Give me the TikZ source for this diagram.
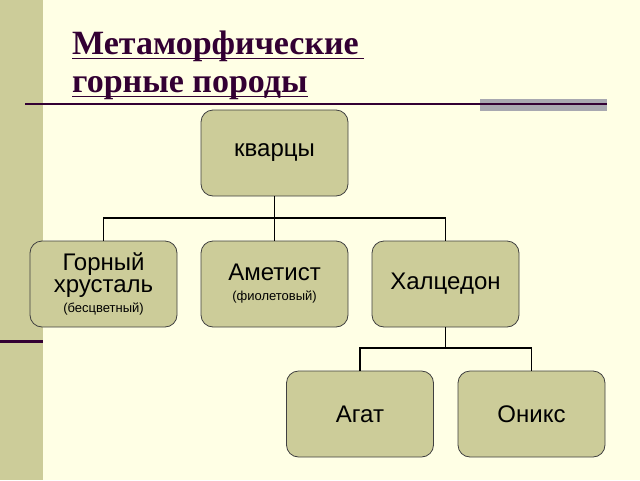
\documentclass[tikz,border=0pt]{standalone}
\usepackage{fontspec}
\setmainfont{Liberation Sans}
\newfontfamily\titlefont{Liberation Serif}
\definecolor{bg}{HTML}{FFFFE5}
\definecolor{olive}{HTML}{CCCC99}
\definecolor{dpurple}{HTML}{330033}
\definecolor{gbar}{HTML}{A8A8B0}
\begin{document}
\begin{tikzpicture}[x=1pt,y=-1pt,
  box/.style={draw=black!75,line width=0.8pt,fill=olive,rounded corners=12pt,minimum width=147pt,minimum height=86pt,align=center,inner sep=2pt,font=\fontsize{24}{26}\selectfont},
  sm/.style={},
  ttl/.style={anchor=base west,text=dpurple,font=\titlefont\bfseries\fontsize{34}{38}\selectfont,inner sep=0pt},
  conn/.style={line width=1.6pt,draw=black}]
\fill[bg] (0,0) rectangle (640,480);
\useasboundingbox (0,0) rectangle (640,480);
\fill[olive] (0,0) rectangle (43,480);
\fill[dpurple] (0,339.5) rectangle (43,342.5);
\fill[gbar] (480,99) rectangle (607,111);
\draw[dpurple,line width=1.5pt] (25,104) -- (607,104);
\node[ttl] (t1) at (72,54) {Метаморфические};
\node[ttl] (t2) at (72,92) {горные породы};
\draw[dpurple,line width=1.3pt] (72,58.5) -- (364,58.5);
\draw[dpurple,line width=1.3pt] (t2.west |- 0,96.5) -- (t2.east |- 0,96.5);
\node[box] (k) at (274.5,153) {кварцы};
\node[box] (g) at (103.5,284) {Горный\\[-4pt]хрусталь\\[-6pt]{\fontsize{13}{15}\selectfont(бесцветный)}};
\node[box] (a) at (274.5,284) {Аметист\\[-6pt]{\fontsize{13}{15}\selectfont(фиолетовый)}};
\node[box] (h) at (445.5,284) {Халцедон};
\node[box] (ag) at (360,414) {Агат};
\node[box] (o) at (531.5,414) {Оникс};
\coordinate (j1) at (274.5,218);
\coordinate (j2) at (445.5,348);
\draw[conn] (k.south) -- (j1);
\draw[conn] (g.north) |- (j1) -| (h.north);
\draw[conn] (j1) -- (a.north);
\draw[conn] (h.south) -- (j2);
\draw[conn] (ag.north) |- (j2) -| (o.north);
\end{tikzpicture}
\end{document}
